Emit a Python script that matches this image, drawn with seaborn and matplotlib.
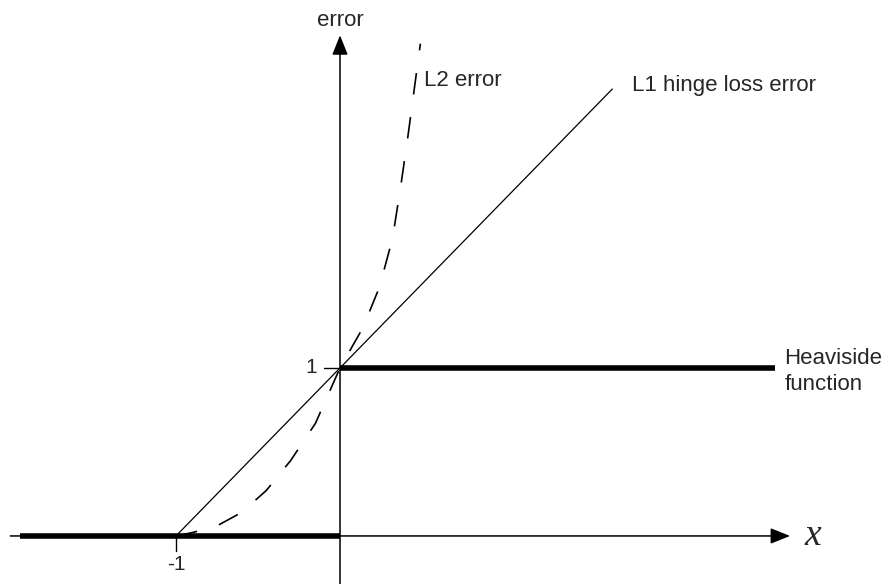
import matplotlib
matplotlib.use("Agg")
import matplotlib.pyplot as plt
import seaborn as sns

# Heaviside step: 0 for x < 0, 1 for x >= 0
step_left_x = [-1.95, 0.0]
step_left_y = [0.0, 0.0]
step_right_x = [0.0, 2.65]
step_right_y = [1.0, 1.0]

# L1 hinge loss: max(0, 1 + x)
hinge_x = [-1.0, 1.66]
hinge_y = [0.0, 2.66]

# L2 error curve
l2_x = [-1.0, -0.9, -0.75, -0.6, -0.45, -0.3, -0.15, 0.0, 0.14, 0.24, 0.32, 0.37, 0.41, 0.45, 0.49]
l2_y = [0.0, 0.02, 0.06, 0.14, 0.27, 0.45, 0.67, 1.0, 1.24, 1.48, 1.77, 2.08, 2.35, 2.64, 2.93]

# axis ticks and labels
tick_x = [-1]
tick_x_labels = ["-1"]
tick_y = [1]
tick_y_labels = ["1"]

sns.set_theme(style="white")
plt.rcParams["font.family"] = ["Liberation Sans", "DejaVu Sans"]
plt.rcParams["lines.scale_dashes"] = False

fig = plt.figure(figsize=(8.88, 5.84), dpi=100)
ax = fig.add_axes([0, 0, 1, 1])
ax.set_xlim(-2.073, 3.341)
ax.set_ylim(-0.286, 3.19)
ax.axis("off")

# coordinate axes with arrow heads
arrow = dict(arrowstyle="-|>,head_length=0.6,head_width=0.24", mutation_scale=20,
             lw=1.1, color="black", shrinkA=0, shrinkB=0)
ax.annotate("", xy=(2.744, 0), xytext=(-2.01, 0), arrowprops=arrow)
ax.annotate("", xy=(0, 2.98), xytext=(0, -0.3), arrowprops=arrow)

# tick marks
for t in tick_x:
    ax.plot([t, t], [0, -0.09], color="black", lw=1.0)
for t in tick_y:
    ax.plot([-0.1, 0], [t, t], color="black", lw=1.0)
for t, lab in zip(tick_x, tick_x_labels):
    ax.text(t, -0.17, lab, ha="center", va="center", fontsize=15)
for t, lab in zip(tick_y, tick_y_labels):
    ax.text(-0.14, t, lab, ha="right", va="center", fontsize=15)

# curves
sns.lineplot(x=step_left_x, y=step_left_y, ax=ax, color="black", lw=4.0,
             solid_capstyle="butt")
sns.lineplot(x=step_right_x, y=step_right_y, ax=ax, color="black", lw=4.0,
             solid_capstyle="butt")
sns.lineplot(x=hinge_x, y=hinge_y, ax=ax, color="black", lw=0.9)
sns.lineplot(x=l2_x, y=l2_y, ax=ax, color="black", lw=1.2,
             linestyle=(0, (15.5, 16.5)))

# annotations
ax.text(0.0, 3.07, "error", ha="center", va="center", fontsize=16)
ax.text(0.51, 2.71, "L2 error", ha="left", va="center", fontsize=16)
ax.text(1.78, 2.68, "L1 hinge loss error", ha="left", va="center", fontsize=16)
ax.text(2.71, 0.98, "Heaviside\nfunction", ha="left", va="center", fontsize=16,
        linespacing=1.3)
ax.text(2.88, 0.0, "x", ha="center", va="center", fontsize=27,
        family=["Liberation Serif", "DejaVu Serif"], style="italic")

fig.savefig("out.png", dpi=100)
